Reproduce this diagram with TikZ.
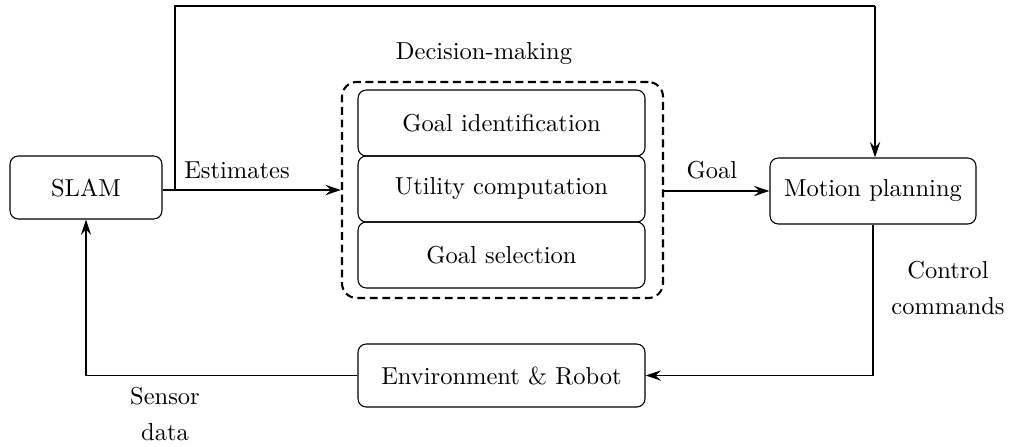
\documentclass[tikz,border=0pt]{standalone}
\usetikzlibrary{arrows.meta}
\begin{document}
\begin{tikzpicture}[x=0.408pt,y=-0.408pt,
  every node/.style={font=\normalsize},
  block/.style={draw, line width=0.45pt, rounded corners=3.4pt, inner sep=0pt, align=center},
  group/.style={draw, line width=0.85pt, dashed, dash pattern=on 3.2pt off 1.9pt, rounded corners=6pt, inner sep=0pt},
  flow/.style={line width=0.45pt, -{Stealth[length=6.3pt,width=4.2pt,inset=2.2pt]}},
  plain/.style={line width=0.45pt},
  lbl/.style={inner sep=0pt, align=center}]
\useasboundingbox (0,0) rectangle (1011,446);

% main blocks
\node[block, minimum width={152*0.408pt}, minimum height={63*0.408pt}] (slam) at (86,187.5) {SLAM};
\node[block, minimum width={206*0.408pt}, minimum height={66*0.408pt}] (mp) at (873,191) {Motion planning};
\node[block, minimum width={287*0.408pt}, minimum height={63*0.408pt}] (env) at (501.5,375.5) {Environment \& Robot};

% decision-making stage
\node[group, minimum width={321*0.408pt}, minimum height={216*0.408pt}] (dm) at (502.5,190) {};
\node[block, minimum width={287*0.408pt}, minimum height={66*0.408pt}] (gi) at (501.5,123) {Goal identification};
\node[block, minimum width={287*0.408pt}, minimum height={66*0.408pt}] (uc) at (501.5,189) {Utility computation};
\node[block, minimum width={287*0.408pt}, minimum height={66*0.408pt}] (gs) at (501.5,255) {Goal selection};
\node[lbl] (dmlbl) at (484,54) {Decision-making};

% connectors
\coordinate (branch) at (175,190);
\coordinate (top) at (875,6);
\draw[flow] (slam.east |- branch) -- (dm.west |- branch);
\draw[plain] (branch) |- (top);
\draw[flow] (top) -- (mp.north -| top);
\draw[flow] (dm.east |- mp) -- (mp.west);
\draw[flow] (mp.south) |- (env.east);
\draw[flow] (env.west) -| (slam.south);

% connector labels
\node[lbl] (est) at (237,170) {Estimates};
\node[lbl] (goal) at (712,170) {Goal};
\node[lbl] (ctrl) at (948,288) {Control\\[3pt]commands};
\node[lbl] (sens) at (165,414) {Sensor\\[3pt]data};
\end{tikzpicture}
\end{document}
